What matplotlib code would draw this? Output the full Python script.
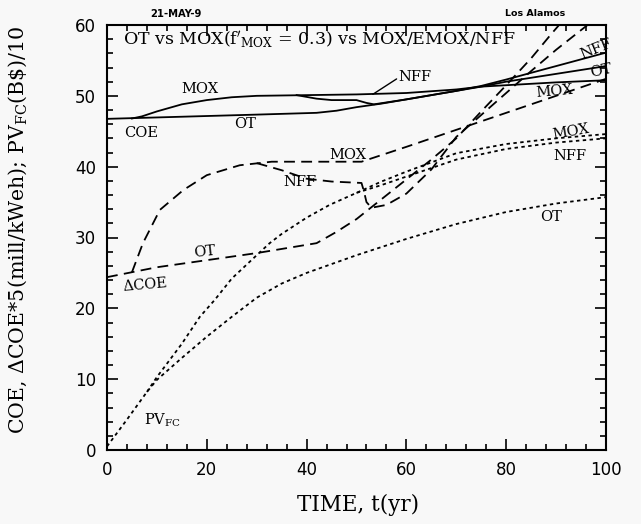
import matplotlib
matplotlib.use("Agg")
import matplotlib.pyplot as plt
from matplotlib.ticker import MultipleLocator

plt.rcParams['mathtext.fontset'] = 'dejavuserif'

# ---- data ----
# COE (solid)
coe_ot_t = [0, 10, 20, 30, 42, 46, 50, 55, 60, 65, 70, 75, 80, 90, 100]
coe_ot_v = [46.75, 46.95, 47.15, 47.35, 47.6, 47.9, 48.4, 48.9, 49.5, 50.1, 50.7, 51.3, 52.0, 53.1, 54.2]
coe_mox_t = [5, 7, 10, 15, 20, 25, 30, 40, 50, 60, 70, 75, 80, 90, 100]
coe_mox_v = [46.8, 47.1, 47.8, 48.8, 49.4, 49.8, 50.0, 50.1, 50.2, 50.4, 50.9, 51.3, 51.5, 51.9, 52.2]
coe_nff_t = [38, 42, 45, 50, 52, 53.5, 60, 70, 75, 80, 90, 100]
coe_nff_v = [50.1, 49.6, 49.4, 49.4, 49.0, 48.8, 49.5, 50.7, 51.4, 52.3, 54.2, 56.1]

# Delta COE * 5 (dashed)
dcoe_ot_t = [0, 10, 20, 30, 42, 46, 50, 55, 60, 65, 68, 70, 75, 80, 85, 89, 90.6]
dcoe_ot_v = [24.4, 25.8, 26.8, 27.8, 29.2, 30.8, 32.6, 35.4, 38.2, 41.0, 42.8, 44.0, 47.8, 51.5, 55.3, 58.7, 60.0]
dcoe_mox_t = [5, 7.2, 10.6, 15.3, 20, 26.6, 33, 40, 51, 60, 70, 80, 90, 100]
dcoe_mox_v = [25.1, 29.2, 33.9, 36.7, 38.8, 40.2, 40.7, 40.7, 40.7, 42.8, 45.2, 47.6, 50.0, 52.4]
dcoe_nff_t = [30, 35, 40, 45, 51, 51.5, 52, 53, 56, 60, 65, 70, 75, 80, 85, 90, 96.3]
dcoe_nff_v = [40.5, 39.5, 38.3, 37.9, 37.7, 36.5, 35.0, 34.2, 34.6, 36.2, 39.6, 44.2, 47.3, 50.4, 53.5, 56.5, 60.0]

# PV_FC / 10 (dotted)
pv_ot_t = [0, 4, 8, 10, 15, 20, 25, 30, 35, 40, 50, 60, 70, 80, 90, 100]
pv_ot_v = [0.5, 4.3, 8.2, 9.9, 13.0, 16.0, 18.8, 21.5, 23.5, 25.0, 27.5, 29.8, 31.9, 33.6, 34.8, 35.7]
pv_mox_t = [8, 10, 15, 18.6, 21.6, 25, 30, 32.6, 35, 40, 44.6, 50, 55, 60, 70, 80, 90, 100]
pv_mox_v = [8.2, 10.3, 15.0, 18.8, 21.2, 24.2, 27.5, 29.2, 30.5, 32.8, 34.6, 36.3, 37.9, 39.3, 41.9, 43.2, 44.0, 44.6]
pv_nff_t = [50, 55, 60, 70, 80, 90, 100]
pv_nff_v = [36.3, 37.4, 38.6, 41.0, 42.5, 43.4, 44.0]

title_txt = "OT vs MOX($\\mathrm{f}'_{\\mathrm{MOX}}$ = 0.3) vs MOX/EMOX/NFF"
xlabel_txt = "TIME, t(yr)"
ylabel_txt = "COE, $\\Delta$COE*5(mill/kWeh); PV$_{\\mathrm{FC}}$(B\\$)/10"

bg = '#f8f8f8'
fig = plt.figure(figsize=(6.41, 5.24), dpi=100, facecolor=bg)
ax = fig.add_axes([107/641, 1-450/524, 499/641, 425/524], facecolor=bg)

lw = 1.3
dash = (0, (6, 3.5))
dot = (0, (1.9, 1.9))
for t, v in [(coe_ot_t, coe_ot_v), (coe_mox_t, coe_mox_v), (coe_nff_t, coe_nff_v)]:
    ax.plot(t, v, color='black', lw=lw, ls='-')
for t, v in [(dcoe_ot_t, dcoe_ot_v), (dcoe_mox_t, dcoe_mox_v), (dcoe_nff_t, dcoe_nff_v)]:
    ax.plot(t, v, color='black', lw=lw, ls=dash)
for t, v in [(pv_ot_t, pv_ot_v), (pv_mox_t, pv_mox_v), (pv_nff_t, pv_nff_v)]:
    ax.plot(t, v, color='black', lw=lw, ls=dot)

ax.set_xlim(0, 100)
ax.set_ylim(0, 60)
ax.xaxis.set_major_locator(MultipleLocator(20))
ax.xaxis.set_minor_locator(MultipleLocator(4))
ax.yaxis.set_major_locator(MultipleLocator(10))
ax.yaxis.set_minor_locator(MultipleLocator(2))
ax.tick_params(which='both', direction='in', top=True, right=True, width=1.2)
ax.tick_params(which='major', length=8, labelsize=12, pad=8)
ax.tick_params(which='minor', length=4)
for s in ax.spines.values():
    s.set_linewidth(1.5)

serif = 'DejaVu Serif'
ax.set_xlabel(xlabel_txt, family=serif, fontsize=15.5, va='center')
ax.xaxis.set_label_coords(0.503, -0.129)
ax.set_ylabel(ylabel_txt, family=serif, fontsize=14.8, va='center')
ax.yaxis.set_label_coords(-0.178, 0.518)

ax.text(3.2, 57.9, title_txt, family=serif, fontsize=12.5, va='center', ha='left')
fig.text(150/641, 1-14/524, "21-MAY-9", fontsize=7.2, weight='bold', va='center', ha='left')
fig.text(565/641, 1-14/524, "Los Alamos", fontsize=6.8, weight='bold', va='center', ha='right')

lab = dict(family=serif, fontsize=10.5, va='center', ha='center')
ax.text(18.6, 51.0, "MOX", **lab)
ax.text(6.8, 44.8, "COE", **lab)
ax.text(27.6, 46.0, "OT", **lab)
ax.text(61.6, 52.7, "NFF", **lab)
ax.annotate("", xy=(52.8, 50.0), xytext=(58.5, 52.6),
            arrowprops=dict(arrowstyle='-', lw=1.0, color='black'))
ax.text(98.0, 56.6, "NFF", rotation=22, **lab)
ax.text(99.0, 53.5, "OT", rotation=12, **lab)
ax.text(89.6, 50.6, "MOX", rotation=5, **lab)
ax.text(48.2, 41.7, "MOX", **lab)
ax.text(38.6, 37.9, "NFF", **lab)
ax.text(19.6, 28.0, "OT", rotation=6, **lab)
ax.text(7.6, 23.4, "$\\Delta$COE", rotation=5, **lab)
ax.text(93.0, 44.9, "MOX", rotation=10, **lab)
ax.text(92.8, 41.5, "NFF", **lab)
ax.text(89.0, 32.9, "OT", **lab)
ax.text(11.2, 4.2, "PV$_{\\mathrm{FC}}$", **lab)

fig.savefig("out.png", dpi=100, facecolor=bg)
